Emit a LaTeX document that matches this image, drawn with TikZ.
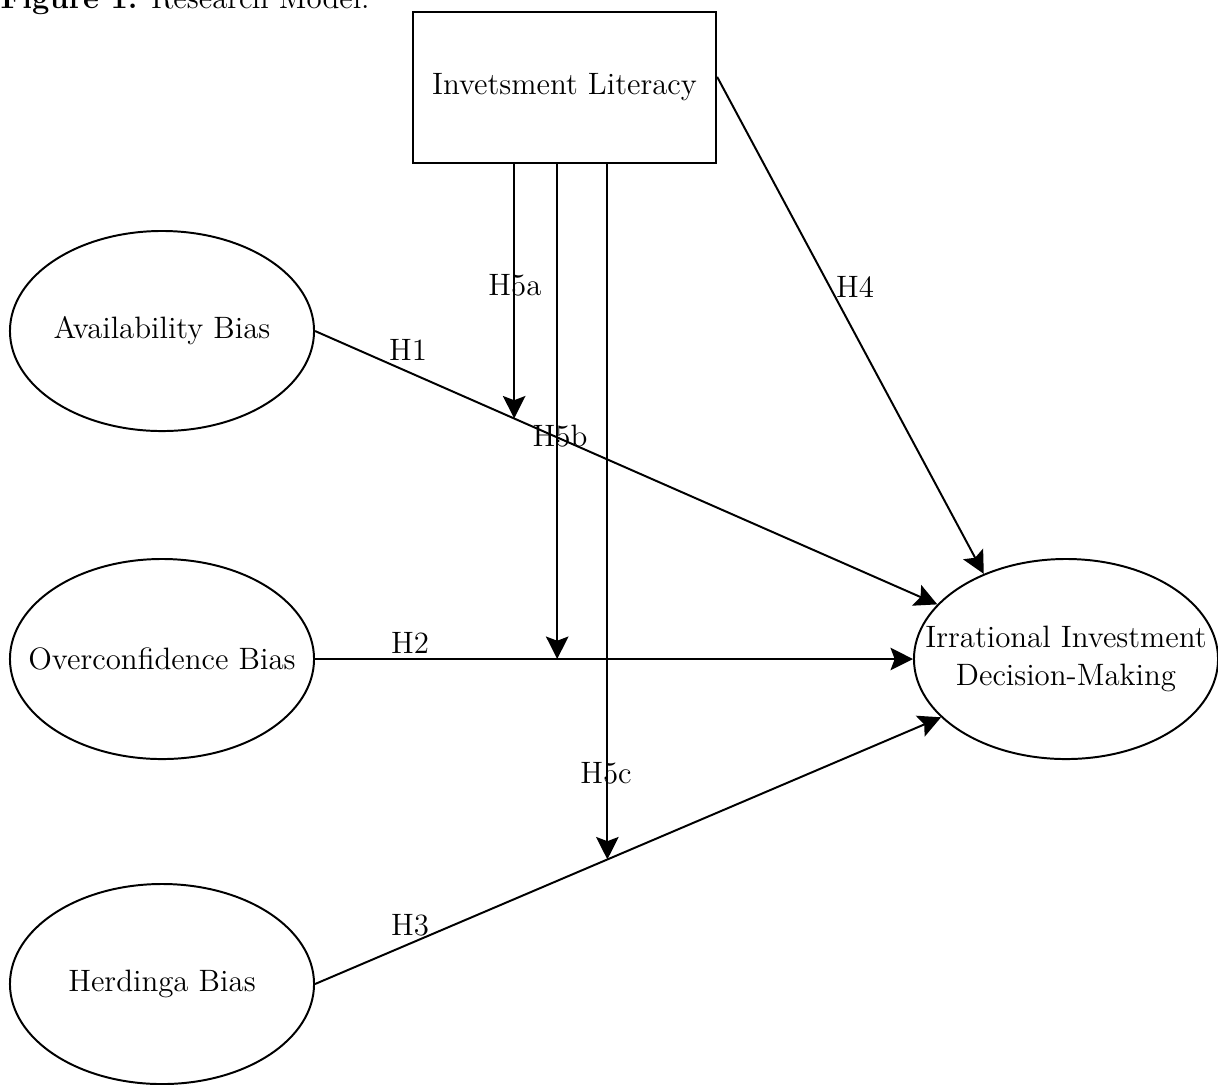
\documentclass[tikz,border=0pt]{standalone}
\usetikzlibrary{shapes.geometric,arrows.meta}

\begin{document}
\begin{tikzpicture}[x=0.0125cm,y=-0.0125cm,
  font=\fontsize{11}{13.8}\selectfont,
  bias/.style={ellipse,draw,line width=0.7pt,minimum width=3.8cm,minimum height=2.5cm,inner sep=0pt},
  hyp/.style={line width=0.7pt,-{Stealth[length=8pt,width=8pt,inset=1.5pt]}}]
\useasboundingbox (0,0) rectangle (1218,1084);

% caption, cut at the top
\node[anchor=base west,inner sep=0pt] (cap) at (0,8) {\textbf{Figure 1.} Research Model.};

% constructs
\node[draw,line width=0.7pt,minimum width=3.79cm,minimum height=1.89cm] (lit) at (564.5,87.5) {Invetsment Literacy};
\foreach \n/\y/\t in {avail/331/Availability Bias, over/659/Overconfidence Bias, herd/984/Herdinga Bias} {
\node[bias,label=center:{\t}] (\n) at (162,\y) {};
}
\node[bias,label={[align=center]center:Irrational Investment\\Decision-Making}] (irr) at (1066,659) {};

% direct paths
\draw[hyp] (avail.east) -- coordinate[pos=0.32] (m1) (irr.157);
\draw[hyp] (over.east) -- coordinate[pos=0.405] (m2) (irr.west);
\draw[hyp] (herd.east) -- coordinate[pos=0.467] (m3) (irr.205);
\draw[hyp] (lit.4) -- (irr.134);

% moderation
\foreach \m in {m1,m2,m3} {
\draw[hyp] (lit.south -| \m) -- (\m);
}

% labels
\foreach \n/\x/\y in {H1/408/350, H2/410/643, H3/410/925, H4/855/287, H5a/515/285, H5b/560/436, H5c/606/773} {
\node (\n) at (\x,\y) {\n};
}
\end{tikzpicture}
\end{document}
